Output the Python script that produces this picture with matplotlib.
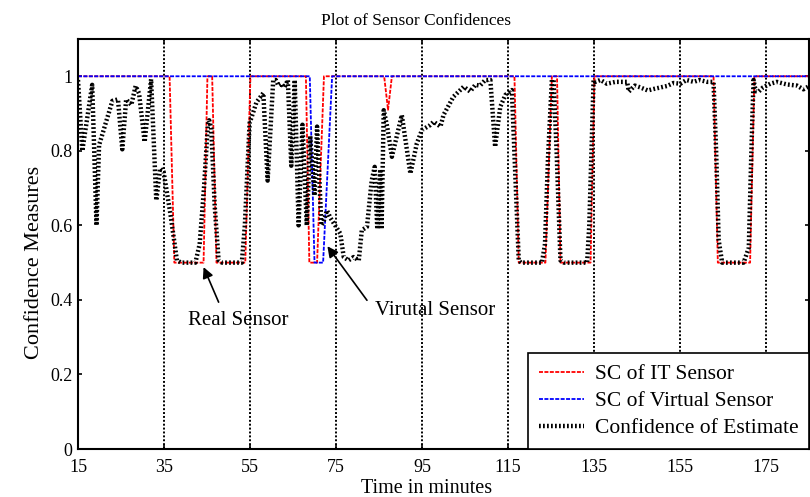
import matplotlib
matplotlib.use("Agg")
import matplotlib.pyplot as plt

# ---------------- data ----------------
title = "Plot of Sensor Confidences"
xlabel = "Time in minutes"
ylabel = "Confidence Measures"
series_names = ["SC of IT Sensor", "SC of Virtual Sensor", "Confidence of Estimate"]

xticks = [15, 35, 55, 75, 95, 115, 135, 155, 175]
yticks = [0, 0.2, 0.4, 0.6, 0.8, 1.0]
ytick_labels = ["0", "0.2", "0.4", "0.6", "0.8", "1"]

it_t = [15, 36.3, 37.4, 44.2, 45.1, 46.2, 47.2, 53.9, 55.1, 68.0, 68.8, 70.6, 72.2,
        86.2, 87.1, 88.0, 116.5, 117.5, 123.7, 125.2, 126.4, 127.2, 134.2, 135.1,
        162.8, 163.8, 171.3, 172.3, 185]
it_v = [1, 1, 0.5, 0.5, 1, 1, 0.5, 0.5, 1, 1, 0.5, 0.5, 1,
        1, 0.91, 1, 1, 0.5, 0.5, 1, 1, 0.5, 0.5, 1,
        1, 0.5, 0.5, 1, 1]

virt_t = [15, 68.9, 70.0, 72.0, 74.1, 185]
virt_v = [1, 1, 0.5, 0.5, 1, 1]

est_t = [15.0, 16.0, 18.3, 19.3, 19.9, 23.0, 24.3, 25.3, 26.2, 27.4, 28.4, 29.2, 30.5,
         32.0, 33.2, 34.1, 34.9, 36.5, 38.0, 39.0, 42.3, 43.3, 44.3, 45.2, 45.5, 46.0,
         46.8, 47.7, 48.5, 53.1, 53.8, 54.9, 56.5, 58.1, 59.1, 60.4, 61.0, 61.6, 62.3,
         63.0, 63.8, 64.6, 65.4, 66.3, 67.2, 68.2, 69.0, 70.0,
         70.6, 71.6, 72.1, 72.9, 73.7, 76.0, 76.8, 77.9, 79.1, 80.3, 81.0, 82.2, 83.3,
         84.0, 84.6, 85.3, 85.6, 86.1, 86.9, 88.0, 90.3, 92.3, 93.8, 95.0, 96.9, 97.7,
         99.3, 100.0, 102.3, 104.7, 106.2, 107.4, 108.5, 109.7, 110.9, 112.0, 113.2,
         114.4, 115.9, 117.5, 118.0, 122.9, 123.6, 124.3, 125.2, 125.6, 126.3, 127.2,
         128.0, 133.4, 133.9, 134.9, 135.3, 136.5, 138.0, 140.0, 142.7, 143.1, 144.5,
         145.8, 147.5, 148.9, 150.5, 152.0, 153.5, 155.1, 156.5, 158.2, 159.5, 161.3,
         162.8, 163.4, 164.0, 164.8, 169.8, 171.0, 171.6, 172.1, 172.6, 173.3, 174.3,
         176.0, 177.5, 179.9, 182.2, 183.7, 184.8]
est_v = [0.99, 0.80, 0.977, 0.60, 0.815, 0.934, 0.938, 0.804, 0.938, 0.923, 0.974, 0.954, 0.824,
         0.992, 0.667, 0.753, 0.744, 0.63, 0.506, 0.50, 0.50, 0.55, 0.70, 0.87, 0.882, 0.86,
         0.65, 0.506, 0.50, 0.50, 0.60, 0.874, 0.93, 0.955, 0.72, 0.99, 0.99, 0.975, 0.98,
         0.97, 0.99, 0.76, 0.99, 0.60, 0.87, 0.60, 0.84, 0.68,
         0.865, 0.60, 0.61, 0.64, 0.62, 0.578, 0.515, 0.506, 0.515, 0.506, 0.587, 0.596, 0.72,
         0.757, 0.59, 0.75, 0.59, 0.909, 0.865, 0.784, 0.896, 0.739, 0.82, 0.856, 0.869, 0.878,
         0.865, 0.896, 0.945, 0.972, 0.959, 0.977, 0.975, 0.99, 0.99, 0.811, 0.918,
         0.950, 0.963, 0.506, 0.50, 0.50, 0.55, 0.78, 0.99, 0.99, 0.80, 0.506,
         0.50, 0.50, 0.60, 0.99, 0.985, 0.99, 0.98, 0.985, 0.985, 0.959, 0.975,
         0.97, 0.962, 0.966, 0.97, 0.974, 0.982, 0.98, 0.99, 0.985, 0.99, 0.985,
         0.985, 0.80, 0.56, 0.50, 0.50, 0.54, 0.80, 0.99, 0.96, 0.959, 0.97,
         0.98, 0.985, 0.978, 0.975, 0.965, 0.972]

real_label = "Real Sensor"
real_tip = (44.2, 0.488)
real_tail = (47.7, 0.394)
real_text_pos = (52.3, 0.345)

virt_label = "Virutal Sensor"
virt_tip = (73.0, 0.544)
virt_tail = (82.2, 0.399)
virt_text_pos = (98.0, 0.372)

# ---------------- plot ----------------
plt.rcParams['font.family'] = ['Liberation Serif', 'DejaVu Serif']

fig = plt.figure(figsize=(8.10, 4.97), dpi=100)
ax = fig.add_axes([78/810, 1-449/497, (809-78)/810, (449-39)/497])

ax.plot(it_t, it_v, color='#ff0000', lw=1.3, linestyle=(0, (2.2, 0.8)), label=series_names[0])
ax.plot(virt_t, virt_v, color='#0000ff', lw=1.3, linestyle=(0, (2.2, 0.8)), label=series_names[1])
ax.plot(est_t, est_v, color='black', lw=3.2, linestyle=(0, (0.4, 0.5)),
        dash_capstyle='butt', label=series_names[2])

ax.set_xlim(15, 185)
ax.set_ylim(0, 1.1)
ax.set_xticks(xticks)
ax.set_yticks(yticks)
ax.set_yticklabels(ytick_labels)

for x in xticks[1:]:
    ax.axvline(x, color='black', lw=1.4, linestyle=(0, (1, 1)), zorder=0.5)

for s in ax.spines.values():
    s.set_linewidth(1.5)

ax.tick_params(direction='in', top=True, right=True, length=3, width=1.2,
               labelsize=13)
ax.tick_params(axis='x', pad=7)
ax.tick_params(axis='y', pad=4)

ax.set_title(title, fontsize=12.5, pad=10, x=0.462)
ax.set_xlabel(xlabel, fontsize=14.5, labelpad=0)
ax.xaxis.set_label_coords(0.477, -0.072)
ax.set_ylabel(ylabel, fontsize=16, labelpad=6)
ax.yaxis.set_label_coords(-0.047, 0.454)

ax.annotate('', xy=real_tip, xytext=real_tail,
            arrowprops=dict(arrowstyle='-|>', color='black', lw=1.2, mutation_scale=16,
                            shrinkA=0, shrinkB=0))
ax.text(*real_text_pos, real_label, fontsize=15, ha='center', va='center')
ax.annotate('', xy=virt_tip, xytext=virt_tail,
            arrowprops=dict(arrowstyle='-|>', color='black', lw=1.2, mutation_scale=16,
                            shrinkA=0, shrinkB=0))
ax.text(*virt_text_pos, virt_label, fontsize=15, ha='center', va='center')

leg = ax.legend(loc='lower right', fontsize=15.5, frameon=True, fancybox=False,
                edgecolor='black', framealpha=1, borderaxespad=0, handlelength=2.1,
                handletextpad=0.5, borderpad=0.5, labelspacing=0.32)
leg.get_frame().set_linewidth(1.2)

fig.savefig('out.png', dpi=100)
